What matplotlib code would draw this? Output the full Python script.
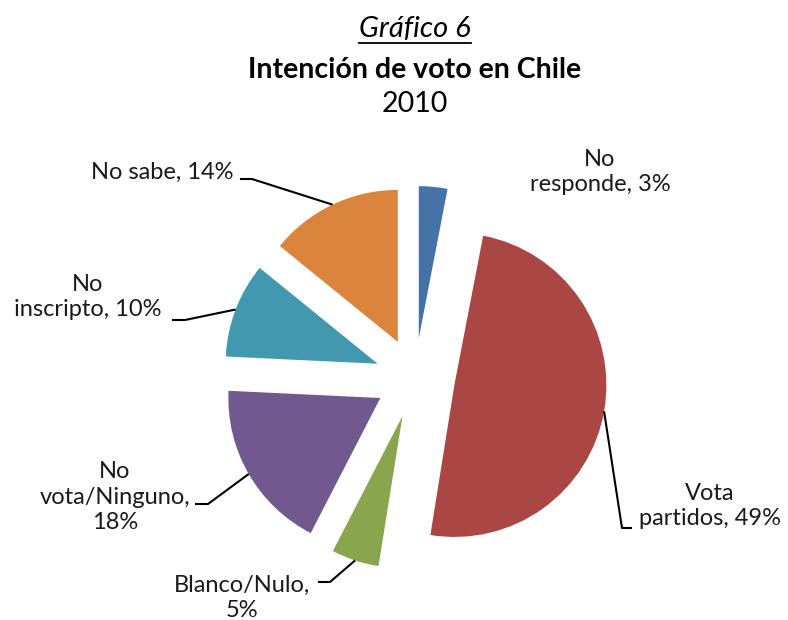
import matplotlib
matplotlib.use("Agg")
import matplotlib.pyplot as plt
import numpy as np

# Data
categories = ["No responde", "Vota partidos", "Blanco/Nulo", "No vota/Ninguno", "No inscripto", "No sabe"]
values = [3, 49, 5, 18, 10, 14]
label_texts = ["No\nresponde, 3%", "Vota\npartidos, 49%", "Blanco/Nulo,\n5%",
               "No\nvota/Ninguno,\n18%", "No\ninscripto, 10%", "No sabe, 14%"]
colors = ["#4572A7", "#AA4643", "#89A54E", "#71588F", "#4198AF", "#DB843D"]

W, H = 788, 620
FONT = "Lato"
plt.rcParams["font.family"] = [FONT, "DejaVu Sans"]

fig = plt.figure(figsize=(W / 100, H / 100), dpi=100)
ax = fig.add_axes([0, 0, 1, 1])


def py(y):
    """top-down pixel row -> axis y"""
    return H - y


radius = 152
gap = 40
wedges, _ = ax.pie(values, explode=[gap] * len(values), center=(415, py(378)),
                   radius=radius, startangle=90, counterclock=False, colors=colors,
                   wedgeprops=dict(linewidth=0))
ax.set_xlim(0, W)
ax.set_ylim(0, H)
ax.set_aspect("equal")
ax.axis("off")

# label placement (centre of text block) and leader elbows
label_pos = [(600, 172), (710, 506), (242, 598), (115, 497), (88, 297), (162, 172)]
leaders = [None, [(622, 528), (632, 528)], [(330, 582), (318, 582)],
           [(208, 504), (195, 504)], [(185, 320), (172, 320)], [(252, 179), (240, 179)]]

fs_lab = 17
for w, txt, pos, ld in zip(wedges, label_texts, label_pos, leaders):
    ax.text(pos[0], py(pos[1]), txt, ha="center", va="center", fontsize=fs_lab,
            color="#1a1a1a", linespacing=1.28)
    if ld is not None:
        mid = np.deg2rad((w.theta1 + w.theta2) / 2)
        cx, cy = w.center
        ax_pt = (cx + w.r * np.cos(mid), cy + w.r * np.sin(mid))
        xs = [ax_pt[0]] + [p[0] for p in ld]
        ys = [ax_pt[1]] + [py(p[1]) for p in ld]
        ax.plot(xs, ys, color="black", lw=1.5, solid_capstyle="butt")

# titles
t1 = ax.text(415, py(29), "Gráfico 6", ha="center", va="center", fontsize=21,
             style="italic", color="black")
ax.text(415, py(70), "Intención de voto en Chile", ha="center", va="center",
        fontsize=20.5, weight="bold", color="black")
ax.text(415, py(104), "2010", ha="center", va="center", fontsize=20.5, color="black")

fig.canvas.draw()
bb = t1.get_window_extent().transformed(ax.transData.inverted())
ax.plot([bb.x0, bb.x1], [py(43), py(43)], color="black", lw=1.3)

fig.savefig("out.png", dpi=100)
